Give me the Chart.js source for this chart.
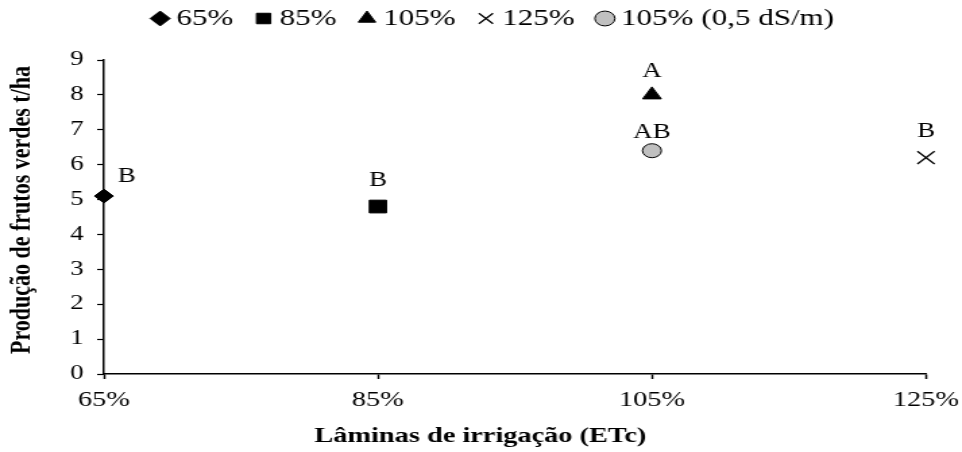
<!DOCTYPE html>
<html><head><meta charset="utf-8">
<script src="https://cdn.jsdelivr.net/npm/chart.js@4.4.1/dist/chart.umd.min.js"></script>
<style>
html,body{margin:0;padding:0;background:#fff;overflow:hidden;}
#wrap{width:713px;height:452px;transform:scaleX(1.34923);transform-origin:0 0;}
canvas{display:block;}
</style></head><body>
<div id="wrap"><canvas id="c" width="713" height="452"></canvas></div>
<script>
// ---- data ----
const seriesNames = ['65%', '85%', '105%', '125%', '105% (0,5 dS/m)'];
const xValues = [65, 85, 105, 125, 105];
const yValues = [5.1, 4.8, 8.0, 6.2, 6.4];
const letters = ['B', 'B', 'A', 'B', 'AB'];
const xTicks = [65, 85, 105, 125];
const yTicks = [0, 1, 2, 3, 4, 5, 6, 7, 8, 9];
const xTitle = 'Lâminas de irrigação (ETc)';
const yTitle = 'Produção de frutos verdes t/ha';

// ---- styles ----
const pointStyles = ['rectRot', 'rect', 'triangle', 'crossRot', 'circle'];
const pointRadii = [7, 9, 8, 9, 7];
const fills = ['#000', '#000', '#000', '#000', '#c0c0c0'];
const labelOffsets = [[17, -19], [0, -26], [0, -23], [0, -26], [0, -18]];
const SERIF = "'Liberation Serif','Times New Roman',serif";

const datasets = seriesNames.map((name, i) => ({
  label: name,
  data: [{x: xValues[i], y: yValues[i]}],
  pointStyle: pointStyles[i],
  pointRadius: pointRadii[i],
  pointHoverRadius: pointRadii[i],
  backgroundColor: fills[i],
  borderColor: '#000',
  borderWidth: i === 3 ? 1.3 : 1,
  clip: false
}));

const letterPlugin = {
  id: 'letters',
  afterDatasetsDraw(chart) {
    const ctx = chart.ctx;
    const xs = chart.scales.x, ys = chart.scales.y;
    ctx.save();
    ctx.font = '20px ' + SERIF;
    ctx.fillStyle = '#000';
    ctx.textAlign = 'center';
    ctx.textBaseline = 'middle';
    letters.forEach((t, i) => {
      const px = xs.getPixelForValue(xValues[i]) + labelOffsets[i][0];
      const py = ys.getPixelForValue(yValues[i]) + labelOffsets[i][1];
      ctx.fillText(t, px, py);
    });
    ctx.restore();
  }
};

const titlePlugin = {
  id: 'axisTitles',
  afterDraw(chart) {
    const ctx = chart.ctx;
    ctx.save();
    ctx.fillStyle = '#000';
    ctx.textAlign = 'center';
    ctx.textBaseline = 'middle';
    ctx.font = 'bold 21px ' + SERIF;
    ctx.fillText(xTitle, 356, 437);
    ctx.translate(16.5, 210);
    ctx.rotate(-Math.PI / 2);
    ctx.font = 'bold 22px ' + SERIF;
    ctx.fillText(yTitle, 0, 0);
    ctx.restore();
  }
};

new Chart(document.getElementById('c'), {
  type: 'scatter',
  data: {datasets},
  plugins: [letterPlugin, titlePlugin],
  options: {
    responsive: false,
    animation: false,
    events: [],
    layout: {padding: {left: 50, right: 26.7, top: -15, bottom: 0}},
    plugins: {
      tooltip: {enabled: false},
      // spacer between legend and plot area
      title: {display: true, text: ' ', weight: 500, padding: 0,
              font: {size: 20, lineHeight: 1}},
      legend: {
        position: 'top',
        weight: 1000,
        labels: {
          usePointStyle: true,
          boxWidth: 1,
          boxHeight: 10.5,
          padding: 22,
          color: '#000',
          font: {family: SERIF, size: 23}
        }
      }
    },
    scales: {
      x: {
        type: 'linear',
        min: 65, max: 125,
        afterBuildTicks: s => { s.ticks = xTicks.map(v => ({value: v})); },
        afterFit: s => { s.height = 78; s.paddingLeft = 0; s.paddingRight = 0; },
        ticks: {color: '#000', font: {family: SERIF, size: 21}, padding: 9,
                callback: v => v + '%', maxRotation: 0},
        grid: {display: true, drawOnChartArea: false, drawTicks: true, tickLength: 5, color: '#000', tickWidth: 1.5},
        border: {display: true, color: '#000', width: 1.5}
      },
      y: {
        min: 0, max: 9,
        afterBuildTicks: s => { s.ticks = yTicks.map(v => ({value: v})); },
        afterFit: s => { s.width = 27; s.paddingTop = 0; s.paddingBottom = 0; },
        ticks: {color: '#000', font: {family: SERIF, size: 20}, padding: 10},
        grid: {display: true, drawOnChartArea: false, drawTicks: true, tickLength: 5, color: '#000', tickWidth: 1.2},
        border: {display: true, color: '#000', width: 1.5}
      }
    }
  }
});
</script>
</body></html>
